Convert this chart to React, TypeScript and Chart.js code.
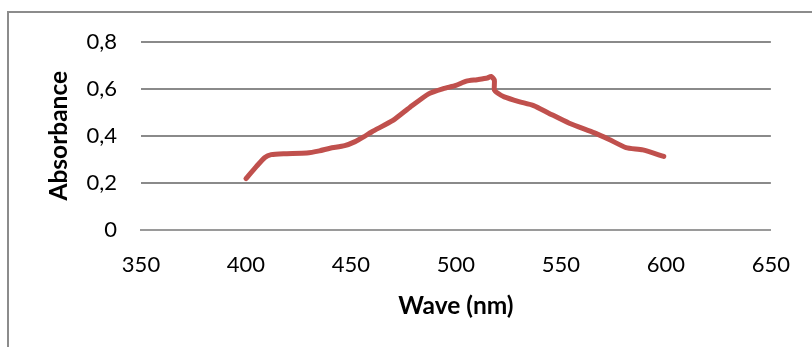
import React, { useEffect, useRef } from "react";
import { Chart, registerables } from "chart.js";

Chart.register(...registerables);

const waveNm: number[] = [400, 405, 409, 412, 418, 429, 435, 440, 447, 452, 456, 460, 470, 478, 487, 494, 500, 505, 510, 515, 516.7, 518.3, 518.3, 520, 523, 530, 537, 544, 554, 566, 573, 581, 589, 599];
const absorbance: number[] = [0.218, 0.27, 0.308, 0.32, 0.324, 0.327, 0.336, 0.347, 0.358, 0.375, 0.395, 0.417, 0.465, 0.52, 0.578, 0.6, 0.614, 0.632, 0.638, 0.645, 0.652, 0.636, 0.595, 0.58, 0.565, 0.545, 0.528, 0.497, 0.453, 0.412, 0.384, 0.35, 0.34, 0.312];
const xTicks = { min: 350, max: 650, step: 50 };
const yTicks = { min: 0, max: 0.8, step: 0.2 };
const xTitle = "Wave (nm)";
const yTitle = "Absorbance";

export default function App() {
  const ref = useRef<HTMLCanvasElement>(null);
  useEffect(() => {
    if (!ref.current) return;
    const font = "Lato, 'Open Sans', sans-serif";
    const chart = new Chart(ref.current, {
      type: "line",
      data: {
        datasets: [
          {
            data: waveNm.map((x, i) => ({ x, y: absorbance[i] })),
            borderColor: "#C0504D",
            borderWidth: 5,
            borderCapStyle: "round",
            borderJoinStyle: "round",
            pointRadius: 0,
            tension: 0.2,
            fill: false,
          },
        ],
      },
      options: {
        animation: false,
        responsive: false,
        maintainAspectRatio: false,
        layout: { padding: { top: 41.5, right: 40, bottom: 0, left: 0 } },
        plugins: { legend: { display: false }, tooltip: { enabled: false } },
        scales: {
          x: {
            type: "linear",
            min: xTicks.min,
            max: xTicks.max,
            afterFit: (s: any) => { s.height = 117; },
            ticks: { stepSize: xTicks.step, color: "#000", padding: 22, font: { family: font, size: 22 }, maxRotation: 0 },
            grid: { display: false, drawTicks: false },
            border: { display: true, color: "#9a9a9a", width: 2 },
            title: { display: true, text: xTitle, color: "#000", font: { family: font, size: 24.5, weight: "bold" }, padding: { top: 0, bottom: 26 } },
          },
          y: {
            min: yTicks.min,
            max: yTicks.max,
            afterFit: (s: any) => { s.width = 141; },
            ticks: {
              stepSize: yTicks.step,
              color: "#000",
              padding: 24,
              font: { family: font, size: 22 },
              callback: (v: any) => (Math.round(Number(v) * 10) / 10).toString().replace(".", ","),
            },
            grid: { color: "#8a8a8a", lineWidth: 2, drawTicks: false },
            border: { display: false },
            title: { display: true, text: yTitle, color: "#000", font: { family: font, size: 24.5, weight: "bold" }, padding: { top: 44, bottom: 0 } },
          },
        },
      },
    });
    return () => chart.destroy();
  }, []);
  return (
    <div style={{ position: "fixed", left: 0, top: 0, width: 812, height: 347, overflow: "hidden", background: "#fff" }}>
      <div style={{ position: "absolute", left: 7, top: 11, width: 900, height: 500, border: "2px solid #8c8c8c" }} />
      <canvas ref={ref} width={812} height={347} style={{ position: "absolute", left: 0, top: 0, width: 812, height: 347 }} />
    </div>
  );
}
